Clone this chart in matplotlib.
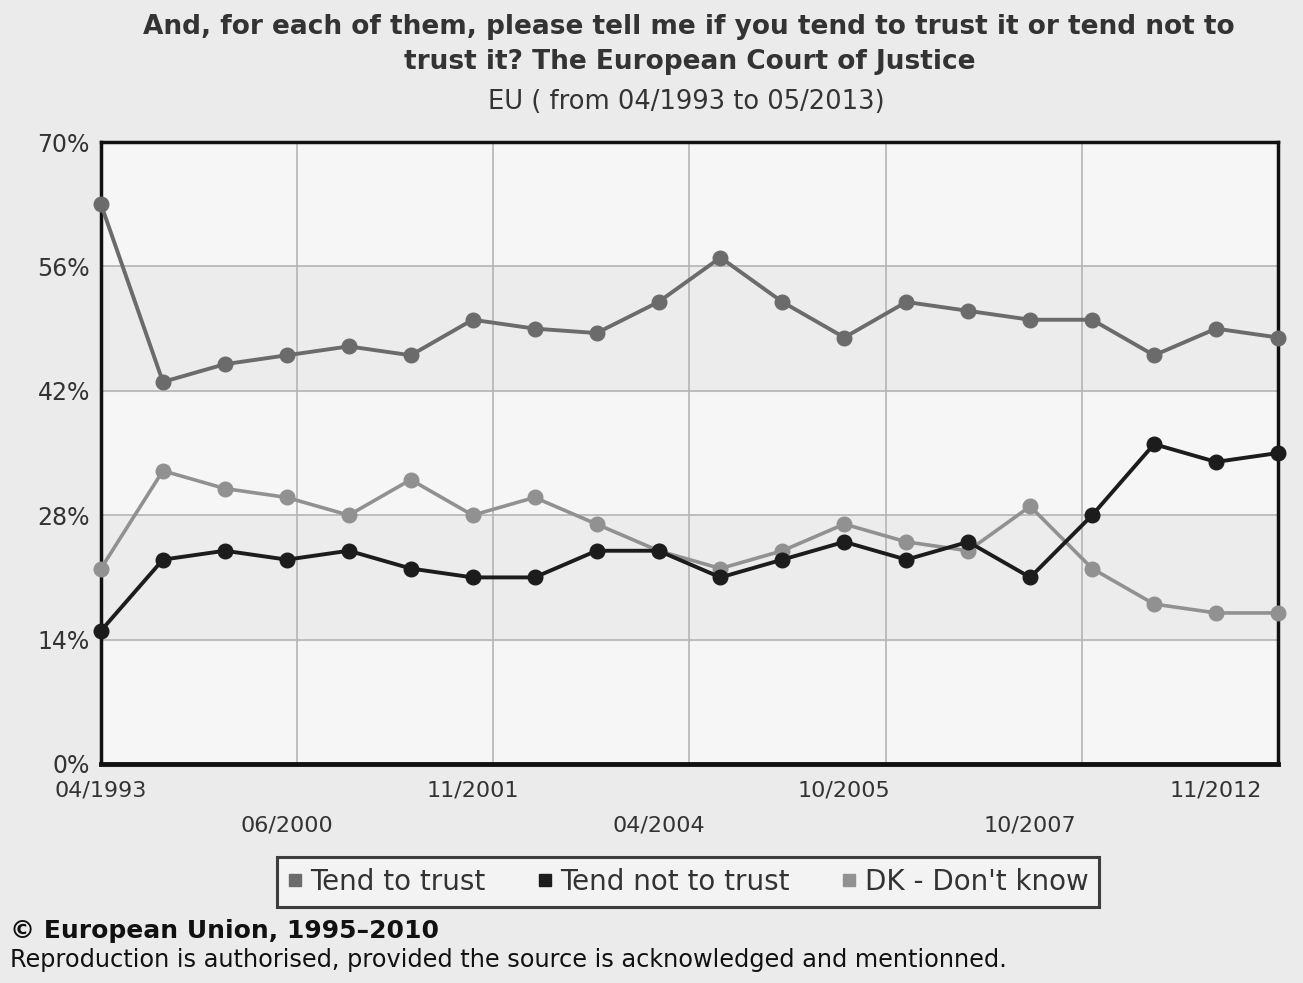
import matplotlib.pyplot as plt

# survey waves 04/1993 .. 05/2013 (20 points), only some labelled
waves = list(range(20))
tick_idx = [0, 3, 6, 9, 12, 15, 18]
tick_labels = ["04/1993", "06/2000", "11/2001", "04/2004", "10/2005", "10/2007", "11/2012"]

trust = [63, 43, 45, 46, 47, 46, 50, 49, 48.5, 52, 57, 52, 48, 52, 51, 50, 50, 46, 49, 48]
not_trust = [15, 23, 24, 23, 24, 22, 21, 21, 24, 24, 21, 23, 25, 23, 25, 21, 28, 36, 34, 35]
dont_know = [22, 33, 31, 30, 28, 32, 28, 30, 27, 24, 22, 24, 27, 25, 24, 29, 22, 18, 17, 17]

c_trust = "#6b6b6b"
c_not = "#1c1c1c"
c_dk = "#919191"

fig = plt.figure(figsize=(13.03, 9.83), dpi=100)
fig.patch.set_facecolor("#ebebeb")
ax = fig.add_axes([0.0775, 0.2228, 0.9033, 0.6327])
ax.set_facecolor("#f6f6f6")

ax.set_xlim(0, 19)
ax.set_ylim(0, 70)

# alternating bands + grid
ax.axhspan(14, 28, color="#ececec", zorder=0)
ax.axhspan(42, 56, color="#ececec", zorder=0)
for yv in [14, 28, 42, 56]:
    ax.axhline(yv, color="#b4b4b4", lw=1.2, zorder=1)
for k in range(1, 6):
    ax.axvline(19 * k / 6, color="#b4b4b4", lw=1.2, zorder=1)

ax.plot(waves, trust, color=c_trust, lw=2.8, marker="o", ms=10.5, zorder=3, clip_on=False)
ax.plot(waves, dont_know, color=c_dk, lw=2.6, marker="o", ms=10.5, zorder=3, clip_on=False)
ax.plot(waves, not_trust, color=c_not, lw=2.8, marker="o", ms=10.5, zorder=4, clip_on=False)

for s in ax.spines.values():
    s.set_color("#111111")
    s.set_linewidth(2.5)
ax.spines["bottom"].set_linewidth(3.5)

ax.set_yticks([0, 14, 28, 42, 56, 70])
ax.set_yticklabels(["0%", "14%", "28%", "42%", "56%", "70%"], fontsize=17, color="#333333")
ax.set_xticks(tick_idx)
ax.set_xticklabels([lab if i % 2 == 0 else "\n" + lab for i, lab in enumerate(tick_labels)],
                   fontsize=16, color="#333333", linespacing=1.95)
ax.tick_params(axis="x", length=0, pad=12)
ax.tick_params(axis="y", length=0, pad=8)

fig.text(0.529, 0.986, "And, for each of them, please tell me if you tend to trust it or tend not to\ntrust it? The European Court of Justice",
         ha="center", va="top", fontsize=19, fontweight="bold", color="#333333", linespacing=1.45)
fig.text(0.527, 0.896, "EU ( from 04/1993 to 05/2013)", ha="center", va="center", fontsize=18.5, color="#333333")

# legend
h1, = ax.plot([], [], "s", color=c_trust, ms=8)
h2, = ax.plot([], [], "s", color=c_not, ms=8)
h3, = ax.plot([], [], "s", color=c_dk, ms=8)
leg = fig.legend([h1, h2, h3], ["Tend to trust", "Tend not to trust", "DK - Don't know"],
                 loc="center", bbox_to_anchor=(0.528, 0.1027), ncol=3, fontsize=20,
                 frameon=True, fancybox=False, handlelength=0.5, handletextpad=0.3,
                 columnspacing=1.9, borderpad=0.4)
leg.get_frame().set_edgecolor("#111111")
leg.get_frame().set_linewidth(2.2)
leg.get_frame().set_facecolor("#f6f6f6")
for t in leg.get_texts():
    t.set_color("#333333")

fig.text(0.008, 0.053, "\u00a9 European Union, 1995\u20132010", ha="left", va="center",
         fontsize=18, fontweight="bold", color="#111111")
fig.text(0.008, 0.023, "Reproduction is authorised, provided the source is acknowledged and mentionned.",
         ha="left", va="center", fontsize=17.3, color="#111111")

fig.savefig("out.png", dpi=100, facecolor=fig.get_facecolor())
